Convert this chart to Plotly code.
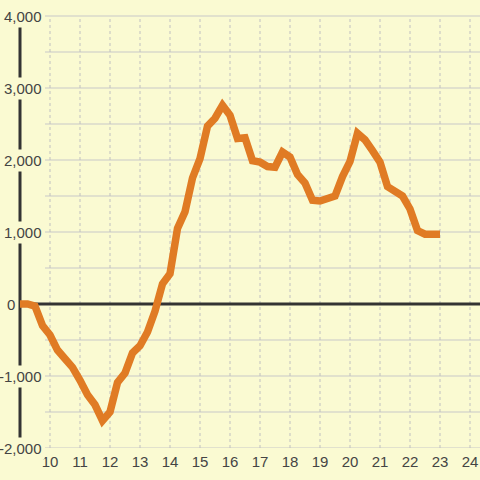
import plotly.graph_objects as go

# ---- data ----
hours = [9.0 + 0.25 * i for i in range(57)]
values = [
    0, 0, -30, -300, -430, -640, -760, -880, -1060, -1260, -1400, -1620,
    -1500, -1090, -960, -680, -580, -390, -100, 280, 420, 1050, 1280, 1750,
    2020, 2470, 2580, 2760, 2620, 2300, 2310, 1990, 1970, 1910, 1900, 2110,
    2040, 1800, 1680, 1440, 1430, 1470, 1500, 1770, 1980, 2370, 2280, 2130,
    1970, 1630, 1550, 1500, 1320, 1020, 970, 970, 970,
]
x_ticks = list(range(10, 25))
x_tick_labels = [str(v) for v in x_ticks]
y_ticks = [-2000, -1000, 0, 1000, 2000, 3000, 4000]
y_tick_labels = ["-2,000", "-1,000", "0", "1,000", "2,000", "3,000", "4,000"]
y_grid = [-2000 + 500 * i for i in range(13)]

BG = "#fafad2"
FONT = "Liberation Sans, Arial, sans-serif"
X_MIN, X_MAX = 8.3333, 24.3333
Y_MIN, Y_MAX = -2000, 4222.2
AXIS_X = 9.0
GRID_X0 = 9.833
LABEL_X = 9.8333      # right edge of label boxes (incl. padding)
ZERO_LABEL_X = 8.9333  # the zero label sits left of the axis line

fig = go.Figure()
fig.add_trace(go.Scatter(
    x=hours, y=values, mode="lines",
    line=dict(color="#e07b24", width=7.5),
    hoverinfo="skip", showlegend=False,
))

shapes = []
for g in y_grid:
    shapes.append(dict(type="line", xref="x", yref="y", x0=GRID_X0, x1=X_MAX,
                       y0=g, y1=g, line=dict(color="#c8c8c8", width=1), layer="below"))
for t in x_ticks:
    shapes.append(dict(type="line", xref="x", yref="y", x0=t, x1=t,
                       y0=y_ticks[0], y1=y_ticks[-1],
                       line=dict(color="#c0c0c0", width=1, dash="dot"), layer="below"))
shapes.append(dict(type="line", xref="x", yref="y", x0=AXIS_X, x1=X_MAX, y0=0, y1=0,
                   line=dict(color="#333333", width=3), layer="below"))
shapes.append(dict(type="line", xref="x", yref="y", x0=AXIS_X, x1=AXIS_X,
                   y0=y_ticks[0], y1=y_ticks[-1],
                   line=dict(color="#333333", width=3), layer="below"))

annotations = []
for v, lab in zip(y_ticks, y_tick_labels):
    annotations.append(dict(x=ZERO_LABEL_X if v == 0 else LABEL_X, y=v,
                            xref="x", yref="y", text=lab,
                            showarrow=False, xanchor="right", yanchor="middle",
                            font=dict(family=FONT, size=15, color="#444444"),
                            bgcolor=BG, borderpad=2))

fig.update_layout(
    width=480, height=480,
    margin=dict(l=0, r=0, t=0, b=32),
    paper_bgcolor=BG, plot_bgcolor=BG,
    shapes=shapes, annotations=annotations,
    xaxis=dict(range=[X_MIN, X_MAX], showgrid=False, zeroline=False,
               tickvals=x_ticks, ticktext=x_tick_labels, ticks="",
               ticklabelstandoff=3,
               tickfont=dict(family=FONT, size=15, color="#444444"),
               showline=False, fixedrange=True, automargin=False),
    yaxis=dict(range=[Y_MIN, Y_MAX], showgrid=False, zeroline=False,
               showticklabels=False, ticks="", showline=False, fixedrange=True,
               automargin=False),
)

fig.write_html(
    "out.html",
    config={"displayModeBar": False},
    post_script="document.body.style.margin='0px';document.body.style.background='" + BG + "';",
)
